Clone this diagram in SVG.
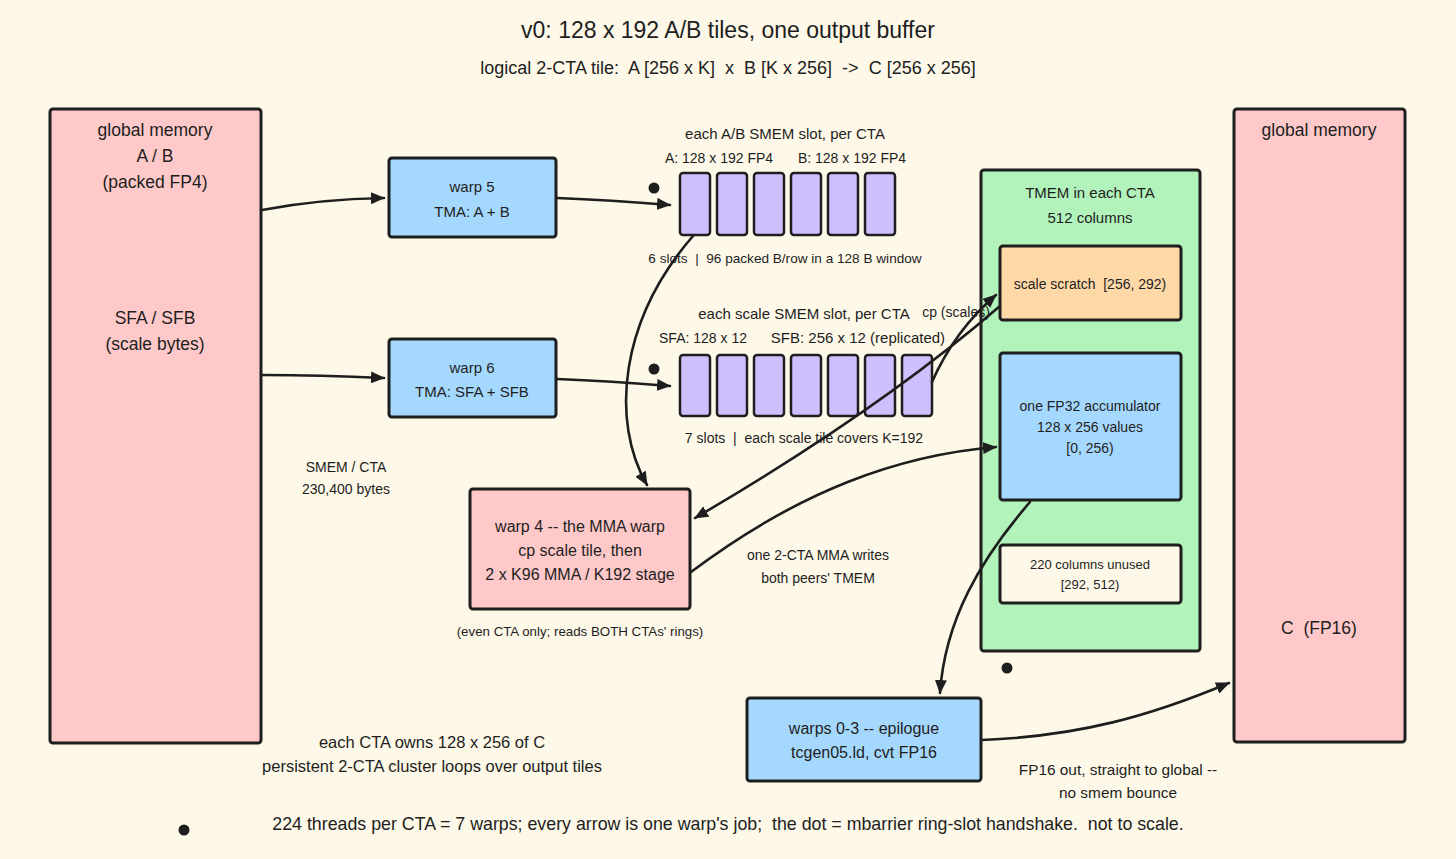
<svg xmlns="http://www.w3.org/2000/svg" width="1456" height="859" viewBox="0 0 1456 859">
<style>
text{font-family:"Liberation Sans",Arial,sans-serif;fill:#1e1e1e;text-anchor:middle}
.box{stroke:#1e1e1e;stroke-width:3}
.pink{fill:#ffc9c9}.blue{fill:#a5d8ff}.green{fill:#b2f2bb}.orange{fill:#ffd8a8}.cream{fill:#fdf8e8}
.slot{fill:#d0bfff;stroke:#1e1e1e;stroke-width:2.5}
.t17{font-size:17px}.t16{font-size:16px}.t15{font-size:15px}.t14{font-size:14px}.t13{font-size:13px}
.conn{fill:none;stroke:#1e1e1e;stroke-width:2.6;stroke-linecap:round}
.dot{fill:#1e1e1e}
</style>
<defs>
<marker id="ah" viewBox="0 0 14 12" refX="13" refY="6" markerWidth="14" markerHeight="12" markerUnits="userSpaceOnUse" orient="auto">
<path d="M0,0 L14,6 L0,12 Z" fill="#1e1e1e"/>
</marker>
</defs>
<rect width="1456" height="859" fill="#fdf8e8"/>

<g id="title">
<text x="728" y="38" style="font-size:23px">v0: 128 x 192 A/B tiles, one output buffer</text>
<text x="728" y="74" style="font-size:18px" xml:space="preserve">logical 2-CTA tile:  A [256 x K]  x  B [K x 256]  -&gt;  C [256 x 256]</text>
</g>

<g id="global-ab">
<rect x="50" y="109" width="211" height="634" rx="3" class="box pink"/>
<text x="155" y="136" style="font-size:17.5px">global memory</text>
<text x="155" y="162" style="font-size:17.5px">A / B</text>
<text x="155" y="188" style="font-size:17.5px">(packed FP4)</text>
<text x="155" y="324" style="font-size:17.5px">SFA / SFB</text>
<text x="155" y="350" style="font-size:17.5px">(scale bytes)</text>
</g>

<g id="global-c">
<rect x="1234" y="109" width="171" height="633" rx="3" class="box pink"/>
<text x="1319" y="136" style="font-size:17.5px">global memory</text>
<text x="1319" y="634" style="font-size:17.5px" xml:space="preserve">C  (FP16)</text>
</g>

<g id="warp5">
<rect x="389" y="158" width="167" height="79" rx="3" class="box blue"/>
<text x="472" y="192" class="t15">warp 5</text>
<text x="472" y="217" class="t15">TMA: A + B</text>
</g>

<g id="warp6">
<rect x="389" y="339" width="167" height="78" rx="3" class="box blue"/>
<text x="472" y="373" class="t15">warp 6</text>
<text x="472" y="397" class="t15">TMA: SFA + SFB</text>
</g>

<g id="ab-slots">
<text x="785" y="139" class="t15">each A/B SMEM slot, per CTA</text>
<text x="719" y="163" class="t14">A: 128 x 192 FP4</text>
<text x="852" y="163" class="t14">B: 128 x 192 FP4</text>
<rect x="680" y="173" width="30" height="62" rx="3" class="slot"/>
<rect x="717" y="173" width="30" height="62" rx="3" class="slot"/>
<rect x="754" y="173" width="30" height="62" rx="3" class="slot"/>
<rect x="791" y="173" width="30" height="62" rx="3" class="slot"/>
<rect x="828" y="173" width="30" height="62" rx="3" class="slot"/>
<rect x="865" y="173" width="30" height="62" rx="3" class="slot"/>
<text x="785" y="263" style="font-size:13.6px" xml:space="preserve">6 slots  |  96 packed B/row in a 128 B window</text>
<circle cx="654" cy="188" r="5.5" class="dot"/>
</g>

<g id="scale-slots">
<text x="804" y="319" class="t15">each scale SMEM slot, per CTA</text>
<text x="703" y="343" class="t14">SFA: 128 x 12</text>
<text x="858" y="343" class="t15">SFB: 256 x 12 (replicated)</text>
<rect x="680" y="355" width="30" height="61" rx="3" class="slot"/>
<rect x="717" y="355" width="30" height="61" rx="3" class="slot"/>
<rect x="754" y="355" width="30" height="61" rx="3" class="slot"/>
<rect x="791" y="355" width="30" height="61" rx="3" class="slot"/>
<rect x="828" y="355" width="30" height="61" rx="3" class="slot"/>
<rect x="865" y="355" width="30" height="61" rx="3" class="slot"/>
<rect x="902" y="355" width="30" height="61" rx="3" class="slot"/>
<text x="804" y="443" class="t14" xml:space="preserve">7 slots  |  each scale tile covers K=192</text>
<circle cx="654" cy="369" r="5.5" class="dot"/>
</g>

<g id="tmem">
<rect x="981" y="170" width="219" height="481" rx="3" class="box green"/>
<text x="1090" y="198" class="t15">TMEM in each CTA</text>
<text x="1090" y="223" class="t15">512 columns</text>
<circle cx="1007" cy="668" r="5.5" class="dot"/>
</g>

<g id="scale-scratch">
<rect x="1000" y="246" width="181" height="74" rx="3" class="box orange"/>
<text x="1090" y="289" class="t14" xml:space="preserve">scale scratch  [256, 292)</text>
</g>

<g id="accumulator">
<rect x="1000" y="353" width="181" height="147" rx="3" class="box blue"/>
<text x="1090" y="411" class="t14">one FP32 accumulator</text>
<text x="1090" y="432" class="t14">128 x 256 values</text>
<text x="1090" y="453" class="t14">[0, 256)</text>
</g>

<g id="unused">
<rect x="1000" y="545" width="181" height="58" rx="3" class="box cream"/>
<text x="1090" y="569" class="t13">220 columns unused</text>
<text x="1090" y="589" class="t13">[292, 512)</text>
</g>

<g id="mma-warp">
<rect x="470" y="489" width="220" height="120" rx="3" class="box pink"/>
<text x="580" y="532" class="t16">warp 4 -- the MMA warp</text>
<text x="580" y="556" class="t16">cp scale tile, then</text>
<text x="580" y="580" class="t16">2 x K96 MMA / K192 stage</text>
<text x="580" y="636" style="font-size:13.3px">(even CTA only; reads BOTH CTAs' rings)</text>
</g>

<g id="epilogue">
<rect x="747" y="698" width="234" height="83" rx="3" class="box blue"/>
<text x="864" y="734" class="t16">warps 0-3 -- epilogue</text>
<text x="864" y="758" class="t16">tcgen05.ld, cvt FP16</text>
</g>

<g id="notes">
<text x="956" y="317" class="t14">cp (scales)</text>
<text x="346" y="472" class="t14">SMEM / CTA</text>
<text x="346" y="494" class="t14">230,400 bytes</text>
<text x="818" y="560" class="t14">one 2-CTA MMA writes</text>
<text x="818" y="583" class="t14">both peers' TMEM</text>
<text x="1118" y="775" style="font-size:15.4px">FP16 out, straight to global --</text>
<text x="1118" y="798" style="font-size:15.4px">no smem bounce</text>
<text x="432" y="748" style="font-size:16.5px">each CTA owns 128 x 256 of C</text>
<text x="432" y="772" style="font-size:16.5px">persistent 2-CTA cluster loops over output tiles</text>
<circle cx="184" cy="830" r="5.5" class="dot"/>
<text x="728" y="830" style="font-size:17.8px" xml:space="preserve">224 threads per CTA = 7 warps; every arrow is one warp's job;  the dot = mbarrier ring-slot handshake.  not to scale.</text>
</g>

<g id="connectors">
<path d="M262,210 Q320,199 384,198" class="conn" marker-end="url(#ah)"/>
<path d="M262,375 Q320,375 384,378" class="conn" marker-end="url(#ah)"/>
<path d="M557,198 Q610,200 670,205" class="conn" marker-end="url(#ah)"/>
<path d="M557,379 Q610,381 670,386" class="conn" marker-end="url(#ah)"/>
<path d="M693,236 C620,320 610,420 647,485" class="conn" marker-end="url(#ah)"/>
<path d="M932,382 Q955,330 996,295" class="conn" marker-end="url(#ah)"/>
<path d="M1000,306 Q880,410 695,518" class="conn" marker-end="url(#ah)"/>
<path d="M691,572 C800,490 900,455 996,447" class="conn" marker-end="url(#ah)"/>
<path d="M1030,502 C980,560 945,620 940,693" class="conn" marker-end="url(#ah)"/>
<path d="M982,740 C1080,736 1150,716 1229,683" class="conn" marker-end="url(#ah)"/>
</g>
</svg>
